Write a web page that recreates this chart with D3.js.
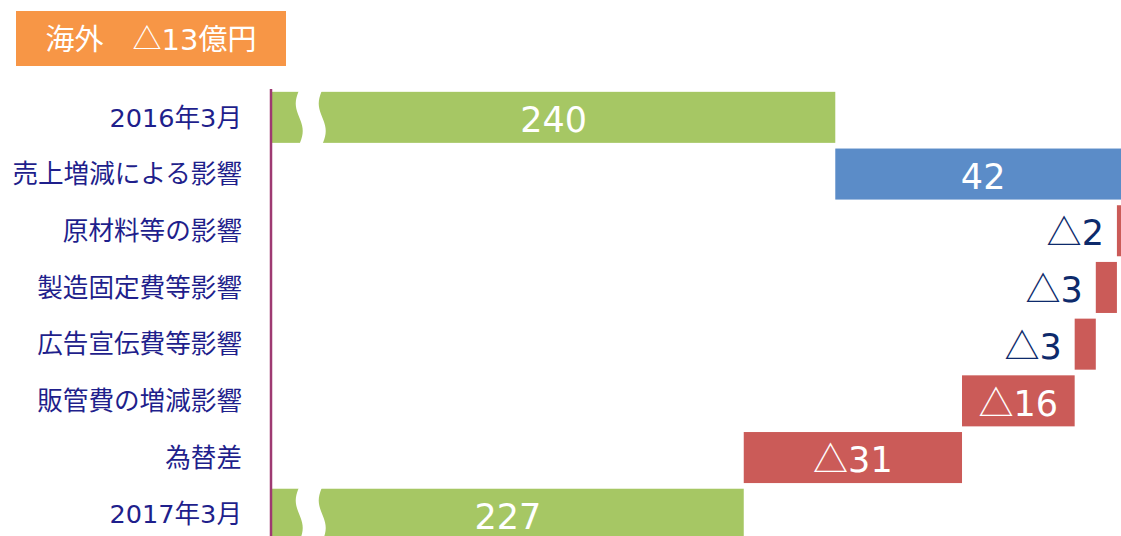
<!DOCTYPE html>
<html>
<head>
<meta charset="utf-8">
<script src="https://cdn.jsdelivr.net/npm/d3@7"></script>
<style>
  body { margin: 0; background: #fff; }
  svg { display: block; }
</style>
</head>
<body>
<div id="chart"></div>
<script>
// waterfall: 海外 営業利益の増減
const categories = ["2016年3月", "売上増減による影響", "原材料等の影響", "製造固定費等影響",
                    "広告宣伝費等影響", "販管費の増減影響", "為替差", "2017年3月"];
const values = [240, 42, -2, -3, -3, -16, -31, 227];
const kinds = ["total", "up", "down", "down", "down", "down", "down", "total"];
const titleLabel = "海外";
const titleValue = -13;

const width = 1121, height = 536;
const colors = {total: "#a6c764", up: "#5b8cc8", down: "#cb5b58"};
const fontStack = "'DejaVu Sans', 'Noto Sans CJK JP', sans-serif";

const svg = d3.select("#chart").append("svg")
  .attr("width", width)
  .attr("height", height);

// build start / end for each step
let run = 0;
const rows = categories.map((c, i) => {
  let s, e;
  if (kinds[i] === "total") { s = 160; e = values[i]; run = values[i]; }
  else { s = run; e = run + values[i]; run = e; }
  return {cat: c, v: values[i], kind: kinds[i], lo: Math.min(s, e), hi: Math.max(s, e)};
});

// axis starts at 160 (broken), bars clipped at right edge
const x = d3.scaleLinear().domain([160, 282]).range([272, 1131]);
const y = d3.scaleBand().domain(categories)
  .range([89, 89 + 8 * 56.7])
  .paddingInner(0.1).paddingOuter(0.05);

// title box
svg.append("rect")
  .attr("x", 16).attr("y", 11).attr("width", 270).attr("height", 55)
  .attr("fill", "#f79646");
const tt = svg.append("text")
  .attr("x", 151).attr("y", 50)
  .attr("text-anchor", "middle")
  .attr("fill", "#fff")
  .style("font-family", fontStack)
  .style("font-size", "29px");
tt.append("tspan").style("font-family", "'Noto Sans CJK JP'").text(titleLabel + "\u3000△");
tt.append("tspan").text(Math.abs(titleValue));
tt.append("tspan").style("font-family", "'Noto Sans CJK JP'").text("億円");

// bars
svg.selectAll("rect.bar").data(rows).join("rect")
  .attr("class", "bar")
  .attr("x", d => x(d.lo))
  .attr("y", d => y(d.cat))
  .attr("width", d => x(d.hi) - x(d.lo))
  .attr("height", y.bandwidth())
  .attr("fill", d => colors[d.kind]);

// break marks on the total bars
const breakAt = 165.5;
function breakPath(d) {
  const cx = x(breakAt), top = y(d.cat) - 2, h = y.bandwidth() + 4;
  const n = 20, left = [], right = [];
  for (let k = 0; k <= n; k++) {
    const t = k / n, yy = top + t * h;
    const off = -3.5 * Math.sin(2 * Math.PI * t);
    left.push([cx - 11.5 + off, yy]);
    right.push([cx + 11.5 + off, yy]);
  }
  return d3.line()(left.concat(right.reverse())) + "Z";
}
svg.selectAll("path.brk").data(rows.filter(d => d.kind === "total")).join("path")
  .attr("class", "brk")
  .attr("d", breakPath)
  .attr("fill", "#fff");

// axis line
svg.append("line")
  .attr("x1", 271).attr("x2", 271)
  .attr("y1", 89).attr("y2", height)
  .attr("stroke", "#9e3a72")
  .attr("stroke-width", 2.5);

// category labels
svg.selectAll("text.cat").data(rows).join("text")
  .attr("class", "cat")
  .attr("x", 242)
  .attr("y", d => y(d.cat) + y.bandwidth() / 2)
  .attr("dy", "0.36em")
  .attr("text-anchor", "end")
  .attr("fill", "#1f1f8c")
  .style("font-family", fontStack)
  .style("font-size", "25.6px")
  .text(d => d.cat);

// value labels
svg.selectAll("text.val").data(rows).join("text")
  .attr("class", "val")
  .each(function (d) {
    const w = x(d.hi) - x(d.lo);
    const inside = w > 60;
    const t = d3.select(this)
      .attr("y", y(d.cat) + y.bandwidth() / 2)
      .attr("dy", "0.42em")
      .style("font-family", fontStack)
      .style("font-size", "35px")
      .attr("fill", inside ? "#fff" : "#0d2a6b")
      .attr("text-anchor", inside ? "middle" : "end")
      .attr("x", inside ? (x(d.lo) + x(d.hi)) / 2 : x(d.lo) - 13);
    if (d.v < 0) {
      t.append("tspan").style("font-family", "'Noto Sans CJK JP'").text("△");
      t.append("tspan").text(Math.abs(d.v));
    } else {
      t.text(d.v);
    }
  });
</script>
</body>
</html>
